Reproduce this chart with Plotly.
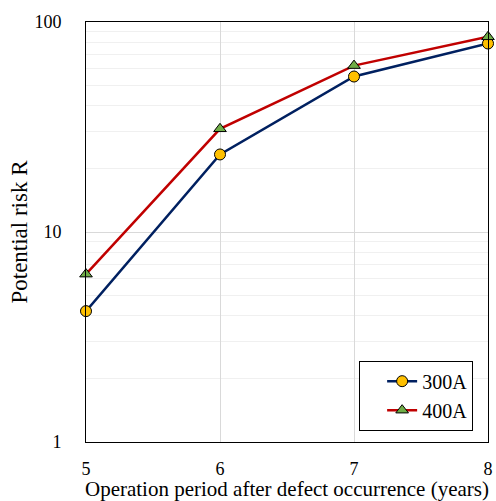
import plotly.graph_objects as go

years = [5, 6, 7, 8]
risk_300A = [4.2, 23.4, 55, 79]
risk_400A = [6.3, 31, 62, 85]
x_ticks = [5, 6, 7, 8]
y_ticks = [1, 10, 100]
y_tick_text = ["1", "10", "100"]
minor_vals = [2, 3, 4, 5, 6, 7, 8, 9, 20, 30, 40, 50, 60, 70, 80, 90]

FONT = "Liberation Serif"

fig = go.Figure()
fig.add_trace(go.Scatter(
    x=years, y=risk_300A, name="300A", mode="lines+markers",
    line=dict(color="#002060", width=2.5),
    marker=dict(symbol="circle", size=11, color="#FFC000", line=dict(color="black", width=1)),
    cliponaxis=False,
))
fig.add_trace(go.Scatter(
    x=years, y=risk_400A, name="400A", mode="lines+markers",
    line=dict(color="#C00000", width=2.5),
    marker=dict(symbol="triangle-up", size=11, color="#70AD47", line=dict(color="black", width=1)),
    cliponaxis=False,
))

fig.update_layout(
    width=496, height=501,
    margin=dict(l=86, r=8, t=22, b=59),
    paper_bgcolor="white", plot_bgcolor="white",
    font=dict(family=FONT, size=18, color="black"),
    showlegend=True,
    legend=dict(
        x=0.963, y=0.027, xanchor="right", yanchor="bottom",
        bordercolor="black", borderwidth=1, bgcolor="white",
        font=dict(family=FONT, size=20),
        itemwidth=30, indentation=22,
    ),
    xaxis=dict(
        range=[5, 8], tickvals=x_ticks, ticks="",
        tickfont=dict(family=FONT, size=18),
        showgrid=True, gridcolor="#d9d9d9", gridwidth=1,
        showline=True, linecolor="black", linewidth=1, mirror=True,
        zeroline=False, ticklabelstandoff=10, automargin=False,
        title=dict(text="Operation period after defect occurrence (years)",
                   font=dict(family=FONT, size=21), standoff=12),
    ),
    yaxis=dict(
        type="log", range=[0, 2], tickvals=y_ticks, ticktext=y_tick_text, ticks="",
        tickfont=dict(family=FONT, size=18),
        showgrid=True, gridcolor="#d9d9d9", gridwidth=1,
        showline=True, linecolor="black", linewidth=1, mirror=True,
        zeroline=False, ticklabelstandoff=20, automargin=False,
        minor=dict(tickvals=minor_vals, showgrid=True, gridcolor="#f0f0f0", gridwidth=1, ticks=""),
        title=dict(text="Potential risk R", font=dict(family=FONT, size=23), standoff=0),
    ),
)

fig.write_html("out.html")
